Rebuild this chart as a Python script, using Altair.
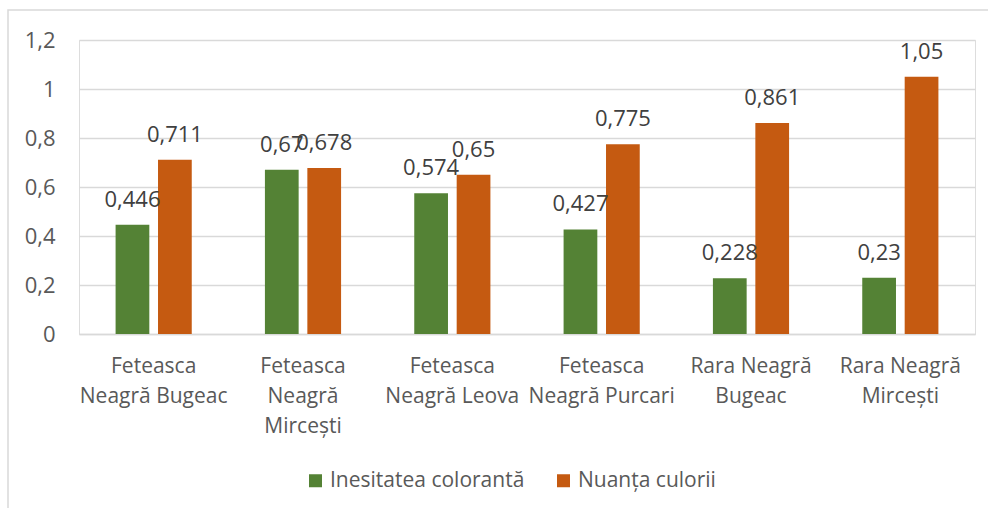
import altair as alt
import pandas as pd

categories = ["Feteasca|Neagră Bugeac", "Feteasca|Neagră|Mircești", "Feteasca|Neagră Leova",
              "Feteasca|Neagră Purcari", "Rara Neagră|Bugeac", "Rara Neagră|Mircești"]
series = ["Inesitatea colorantă", "Nuanța culorii"]
intensity = [0.446, 0.67, 0.574, 0.427, 0.228, 0.23]
hue = [0.711, 0.678, 0.65, 0.775, 0.861, 1.05]
y_ticks = [0, 0.2, 0.4, 0.6, 0.8, 1, 1.2]
colors = ["#548235", "#C55A11"]

rows = []
for c, a, b in zip(categories, intensity, hue):
    rows.append({"cat": c, "series": series[0], "value": a})
    rows.append({"cat": c, "series": series[1], "value": b})
df = pd.DataFrame(rows)

FONT = "Open Sans"

base = alt.Chart(df).encode(
    x=alt.X("cat:N", sort=categories, title=None,
            scale=alt.Scale(paddingInner=0.49, paddingOuter=0.245),
            axis=alt.Axis(labelAngle=0, labelExpr="split(datum.value, '|')",
                          labelFontSize=21, labelColor="#595959", labelFont=FONT,
                          labelLineHeight=30, labelPadding=21, ticks=False,
                          domainColor="#d9d9d9", domainWidth=1.5, labelBaseline="top",
                          labelLimit=400)),
    xOffset=alt.XOffset("series:N", sort=series, scale=alt.Scale(paddingInner=0.205, paddingOuter=0)),
    y=alt.Y("value:Q", title=None,
            scale=alt.Scale(domain=[0, 1.2]),
            axis=alt.Axis(values=y_ticks, labelExpr="replace(toString(datum.value), '.', ',')",
                          labelFontSize=22, labelColor="#595959", labelFont=FONT,
                          labelPadding=24, ticks=False, domain=False,
                          gridColor="#d9d9d9", gridWidth=1.5)),
)

bars = base.mark_bar().encode(
    color=alt.Color("series:N", sort=series, title=None,
                    scale=alt.Scale(domain=series, range=colors),
                    legend=alt.Legend(orient="none", legendX=226, legendY=430,
                                      direction="horizontal", symbolType="square",
                                      symbolSize=169, symbolStrokeWidth=0,
                                      labelFontSize=21, labelColor="#595959", labelFont=FONT,
                                      labelOffset=4, columnPadding=28, labelLimit=400))
)

labels = base.transform_calculate(
    lbl="replace(toString(datum.value), '.', ',')"
).mark_text(dy=-25, baseline="middle", fontSize=22, font=FONT, color="#404040").encode(
    text="lbl:N"
)

frame = alt.Chart(pd.DataFrame({"a": [0]})).mark_rect(
    fill="transparent", stroke="#d9d9d9", strokeWidth=1.5
).encode(
    x=alt.value(-71), x2=alt.value(960), y=alt.value(-30), y2=alt.value(520)
)

chart = alt.layer(frame, bars, labels).properties(
    width=896, height=294,
    autosize=alt.AutoSizeParams(type="none"),
    padding={"left": 79, "top": 40, "right": 13, "bottom": 174},
).configure_view(stroke=None).configure(background="white")

chart.save("out.html", embed_options={"renderer": "svg", "actions": False})
